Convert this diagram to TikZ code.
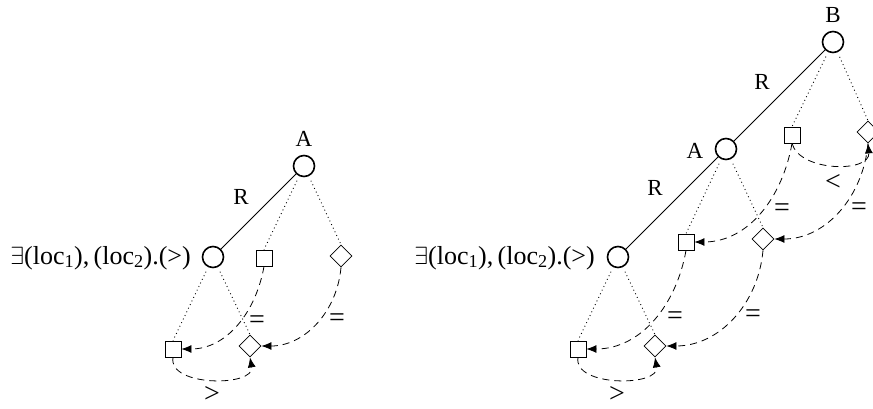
\documentclass[tikz,border=0pt]{standalone}
\usepackage{fontspec}
\setmainfont{Liberation Serif}
\usetikzlibrary{arrows.meta,shapes.geometric}

\tikzset{
  world/.style={circle, draw, line width=1.6pt, minimum size=21pt, inner sep=0pt},
  pt/.style={rectangle, draw, line width=0.8pt, minimum size=16pt, inner sep=0pt},
  dm/.style={diamond, draw, line width=0.8pt, minimum width=22pt, minimum height=22pt, inner sep=0pt},
  role/.style={line width=0.8pt},
  feat/.style={line width=0.9pt, dash pattern=on 0.9pt off 3.1pt, shorten <=5pt},
  cmp/.style={line width=0.8pt, dash pattern=on 7pt off 5pt, -{Latex[length=10pt,width=8pt]}},
  lbl/.style={font=\fontsize{23}{25}\selectfont, inner sep=0pt},
  rel/.style={font=\fontsize{28}{30}\selectfont, inner sep=0pt},
  frm/.style={font=\fontsize{26}{28}\selectfont, inner sep=0pt, anchor=east},
}

\newcommand{\formula}{$\exists$(loc\textsubscript{1}),\,(loc\textsubscript{2}).(>)}

\begin{document}
\begin{tikzpicture}[x=1pt, y=1pt]
\useasboundingbox (0,0) rectangle (873,-408);
\clip (0,0) rectangle (873,-408);

% ---------- left tree ----------
\node[world] (A1) at (304,-166) {};
\node[lbl] (A1l) at (304,-139) {A};
\node[world] (X1) at (213,-257) {};
\node[frm] (F1) at (191,-258) {\formula};
\node[pt] (S1) at (264,-258) {};
\node[dm] (D1) at (341,-256) {};
\node[pt] (S2) at (173,-349) {};
\node[dm] (D2) at (250,-346) {};
\node[lbl] (R1) at (241,-197) {R};

\draw[role] (A1) -- (X1);
\draw[feat] (A1) -- (S1.north);
\draw[feat] (A1) -- (D1.north);
\draw[feat] (X1) -- (S2.north);
\draw[feat] (X1) -- (D2.north);

\draw[cmp] (S1.south) to[out=-100, in=0] (S2.east);
\draw[cmp] (D1.south) to[out=-95, in=0] (D2.east);
\draw[cmp] (S2.south) to[out=-100, in=-80] (D2.south);

\node[rel] (e1) at (257,-322) {=};
\node[rel] (e2) at (337,-320) {=};
\node[rel] (g1) at (212,-394) {>};

% ---------- right tree ----------
\node[world] (B) at (833,-42) {};
\node[lbl] (Bl) at (833,-15) {B};
\node[world] (A2) at (726,-149) {};
\node[lbl] (A2l) at (695,-151) {A};
\node[world] (X2) at (618,-257) {};
\node[frm] (F2) at (595,-258) {\formula};
\node[pt] (S3) at (792,-135) {};
\node[dm] (D3) at (868,-132) {};
\node[pt] (S4) at (686,-242) {};
\node[dm] (D4) at (763,-239) {};
\node[pt] (S5) at (578,-349) {};
\node[dm] (D5) at (655,-346) {};
\node[lbl] (R2) at (762,-82) {R};
\node[lbl] (R3) at (655,-188) {R};

\draw[role] (B) -- (A2);
\draw[role] (A2) -- (X2);
\draw[feat] (B) -- (S3.north);
\draw[feat] (B) -- (D3.north);
\draw[feat] (A2) -- (S4.north);
\draw[feat] (A2) -- (D4.north);
\draw[feat] (X2) -- (S5.north);
\draw[feat] (X2) -- (D5.north);

\draw[cmp] (S3.south) to[out=-100, in=0] (S4.east);
\draw[cmp] (D3.south) to[out=-95, in=0] (D4.east);
\draw[cmp] (S3.south) to[out=-75, in=-85] (D3.south);
\draw[cmp] (S4.south) to[out=-100, in=0] (S5.east);
\draw[cmp] (D4.south) to[out=-95, in=0] (D5.east);
\draw[cmp] (S5.south) to[out=-100, in=-80] (D5.south);

\node[rel] (e3) at (782,-210) {=};
\node[rel] (e4) at (859,-209) {=};
\node[rel] (l1) at (833,-182) {<};
\node[rel] (e5) at (675,-318) {=};
\node[rel] (e6) at (753,-316) {=};
\node[rel] (g2) at (617,-394) {>};
\end{tikzpicture}
\end{document}
